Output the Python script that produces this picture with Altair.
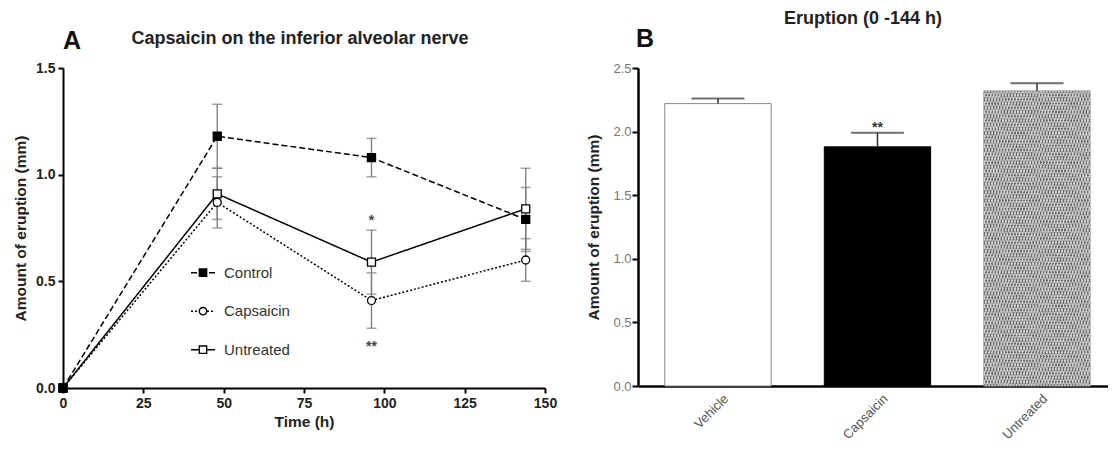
import altair as alt
import pandas as pd

# ---------------- Panel A data ----------------
times = [0, 48, 96, 144]
series_names = ["Control", "Capsaicin", "Untreated"]
control_mean = [0.0, 1.18, 1.08, 0.79]
control_err = [0.0, 0.15, 0.09, 0.15]
capsaicin_mean = [0.0, 0.87, 0.41, 0.60]
capsaicin_err = [0.0, 0.12, 0.13, 0.10]
untreated_mean = [0.0, 0.91, 0.59, 0.84]
untreated_err = [0.0, 0.12, 0.15, 0.19]
x_ticks_a = [0, 25, 50, 75, 100, 125, 150]
y_ticks_a = [0.0, 0.5, 1.0, 1.5]
sig_a_time = [96, 96]
sig_a_value = [0.80, 0.21]
sig_a_text = ["*", "**"]
title_a = ["Capsaicin on  the inferior alveolar nerve"]

# ---------------- Panel B data ----------------
groups = ["Vehicle", "Capsaicin", "Untreated"]
group_mean = [2.22, 1.88, 2.32]
group_err = [0.04, 0.11, 0.06]
sig_b_group = ["Capsaicin"]
sig_b_value = [2.06]
sig_b_text = ["**"]
y_ticks_b = [0.0, 0.5, 1.0, 1.5, 2.0, 2.5]
title_b = ["Eruption (0 -144 h)"]

FONT = "Liberation Sans"
W_A, H_A = 482, 320
W_B, H_B = 470, 318

# ---------- tables ----------
means = {"Control": control_mean, "Capsaicin": capsaicin_mean, "Untreated": untreated_mean}
errs = {"Control": control_err, "Capsaicin": capsaicin_err, "Untreated": untreated_err}
rows = []
for name in ["Untreated", "Capsaicin", "Control"]:
    for t, v, e in zip(times, means[name], errs[name]):
        rows.append({"series": name, "time": t, "value": v, "lo": v - e, "hi": v + e, "err": e})
df_a = pd.DataFrame(rows)
df_sig_a = pd.DataFrame({"time": sig_a_time, "value": sig_a_value, "t": sig_a_text})
df_leg = pd.DataFrame({"series": series_names, "row": list(range(len(series_names)))})

df_b = pd.DataFrame({"group": groups, "mean": group_mean,
                     "top": [m + e for m, e in zip(group_mean, group_err)]})
df_sig_b = pd.DataFrame({"group": sig_b_group, "mean": sig_b_value, "t": sig_b_text})

# ---------- Panel A ----------
axis_common = dict(domainColor="black", domainWidth=2, tickColor="black", tickWidth=2, tickSize=5,
                   labelFont=FONT, labelFontSize=14, labelFontWeight="bold", labelColor="#222",
                   titleFont=FONT, titleFontSize=15.5, titleFontWeight="bold", titleColor="#222",
                   grid=False)
xA = alt.X("time:Q", scale=alt.Scale(domain=[0, 150], nice=False),
           axis=alt.Axis(values=x_ticks_a, title="Time (h)", labelPadding=3, titlePadding=4,
                         labelFlush=False, **axis_common))


def yA(field):
    return alt.Y(field, type="quantitative", scale=alt.Scale(domain=[0, 1.5], nice=False),
                 axis=alt.Axis(values=y_ticks_a, format=".1f", title="Amount of eruption (mm)",
                               labelPadding=3, titlePadding=7, labelFlush=False, **axis_common))


shape_scale = alt.Scale(domain=series_names, range=["square", "circle", "square"])
fill_scale = alt.Scale(domain=series_names, range=["black", "white", "white"])
dash_scale = alt.Scale(domain=series_names, range=[[6, 3], [2, 2], [1, 0]])

base_a = alt.Chart(df_a)
lines = base_a.mark_line(color="black", strokeWidth=1.5).encode(
    x=xA, y=yA("value"),
    strokeDash=alt.StrokeDash("series:N", scale=dash_scale, legend=None))
err_base = base_a.transform_filter("datum.err > 0")
err_rule = err_base.mark_rule(color="#7a7a7a", strokeWidth=1.3).encode(x=xA, y=yA("lo"), y2="hi")
cap_lo = err_base.mark_tick(orient="horizontal", size=10, thickness=1.5, color="#7a7a7a").encode(x=xA, y=yA("lo"))
cap_hi = err_base.mark_tick(orient="horizontal", size=10, thickness=1.5, color="#7a7a7a").encode(x=xA, y=yA("hi"))
points = base_a.mark_point(filled=True, size=64, stroke="black", strokeWidth=1.3, opacity=1).encode(
    x=xA, y=yA("value"),
    shape=alt.Shape("series:N", scale=shape_scale, legend=None),
    fill=alt.Fill("series:N", scale=fill_scale, legend=None))
sig_a = alt.Chart(df_sig_a).mark_text(font=FONT, fontSize=14, fontWeight="bold", color="#444", dy=4).encode(
    x=xA, y=yA("value"), text="t:N")

leg = alt.Chart(df_leg).transform_calculate(
    ly="204.7 + datum.row * 38.5", lx1="128", lx2="152", lm="140", lt="161")
leg_rule = leg.mark_rule(color="black", strokeWidth=1.5).encode(
    x=alt.X("lx1:Q", scale=None), x2="lx2:Q", y=alt.Y("ly:Q", scale=None),
    strokeDash=alt.StrokeDash("series:N", scale=dash_scale, legend=None))
leg_pt = leg.mark_point(filled=True, size=55, stroke="black", strokeWidth=1.3, opacity=1).encode(
    x=alt.X("lm:Q", scale=None), y=alt.Y("ly:Q", scale=None),
    shape=alt.Shape("series:N", scale=shape_scale, legend=None),
    fill=alt.Fill("series:N", scale=fill_scale, legend=None))
leg_txt = leg.mark_text(font=FONT, fontSize=15, color="#333", align="left", baseline="middle").encode(
    x=alt.X("lt:Q", scale=None), y=alt.Y("ly:Q", scale=None), text="series:N")

ttl_a = alt.Chart(pd.DataFrame({"t": title_a})).mark_text(
    font=FONT, fontSize=18, fontWeight="bold", color="#222", align="center", baseline="middle").encode(
    text="t:N", x=alt.value(237), y=alt.value(-29))
lab_a = alt.Chart(pd.DataFrame({"t": ["A"]})).mark_text(
    font=FONT, fontSize=25, fontWeight="bold", color="#111", align="left", baseline="alphabetic").encode(
    text="t:N", x=alt.value(0), y=alt.value(-19))

panel_a = alt.layer(lines, err_rule, cap_lo, cap_hi, points, sig_a, leg_rule, leg_pt, leg_txt,
                    ttl_a, lab_a).properties(width=W_A, height=H_A)

# ---------- Panel B ----------
xB = alt.X("group:N", scale=alt.Scale(domain=groups, paddingInner=1 / 3, paddingOuter=0.14, align=0.6),
           axis=alt.Axis(title=None, labelAngle=-45, labelFont=FONT, labelFontSize=13, labelColor="#555",
                         ticks=False, tickSize=0, labelPadding=6, labelOffset=4,
                         domainColor="black", domainWidth=2.5))


def yB(field):
    return alt.Y(field, type="quantitative", scale=alt.Scale(domain=[0, 2.5], nice=False),
                 axis=alt.Axis(values=y_ticks_b, format=".1f", title="Amount of eruption (mm)",
                               domainColor="black", domainWidth=2.5, tickColor="black", tickWidth=2,
                               tickSize=6, labelPadding=1, labelFont=FONT, labelFontSize=13,
                               labelColor="#777", labelFlush=False,
                               titleFont=FONT, titleFontSize=15.5, titleFontWeight="bold",
                               titleColor="#222", titlePadding=11, grid=False))


def stripes(x1, y1, x2, y2, c1, c2, n=70):
    stops = []
    for k in range(n):
        a, b, c = k / n, (k + 0.5) / n, (k + 1) / n
        stops += [alt.GradientStop(offset=a, color=c1), alt.GradientStop(offset=b, color=c1),
                  alt.GradientStop(offset=b, color=c2), alt.GradientStop(offset=c, color=c2)]
    return alt.LinearGradient(gradient="linear", stops=stops, x1=x1, y1=y1, x2=x2, y2=y2)


base_b = alt.Chart(df_b)
bars_plain = base_b.transform_filter("datum.group != 'Untreated'").mark_bar(strokeWidth=1).encode(
    x=xB, y=yB("mean"),
    fill=alt.Fill("group:N", scale=alt.Scale(domain=["Vehicle", "Capsaicin"], range=["white", "black"]), legend=None),
    stroke=alt.Stroke("group:N", scale=alt.Scale(domain=["Vehicle", "Capsaicin"], range=["#888", "black"]), legend=None))
bars_hatch1 = base_b.transform_filter("datum.group == 'Untreated'").mark_bar(
    fill=stripes(0, 0, 1, 1, "#6a6a6a", "#b4b4b4"), stroke="#999", strokeWidth=1).encode(x=xB, y=yB("mean"))
bars_hatch2 = base_b.transform_filter("datum.group == 'Untreated'").mark_bar(
    fill=stripes(1, 0, 0, 1, "rgba(255,255,255,0.4)", "rgba(255,255,255,0)")).encode(x=xB, y=yB("mean"))
err_b = base_b.mark_rule(color="#333", strokeWidth=1.5).encode(x=xB, y=yB("mean"), y2="top")
cap_b = base_b.mark_tick(orient="horizontal", size=53, thickness=2, color="#333").encode(x=xB, y=yB("top"))
sig_b = alt.Chart(df_sig_b).mark_text(font=FONT, fontSize=14, fontWeight="bold", color="#333", dy=4).encode(
    x=xB, y=yB("mean"), text="t:N")
ttl_b = alt.Chart(pd.DataFrame({"t": title_b})).mark_text(
    font=FONT, fontSize=18, fontWeight="bold", color="#222", align="center", baseline="middle").encode(
    text="t:N", x=alt.value(225), y=alt.value(-48.7))
lab_b = alt.Chart(pd.DataFrame({"t": ["B"]})).mark_text(
    font=FONT, fontSize=25, fontWeight="bold", color="#111", align="left", baseline="alphabetic").encode(
    text="t:N", x=alt.value(-2), y=alt.value(-20.7))

panel_b = alt.layer(bars_plain, bars_hatch1, bars_hatch2, err_b, cap_b, sig_b, ttl_b, lab_b).properties(
    width=W_B, height=H_B)

chart = alt.hconcat(panel_a, panel_b, spacing=93, bounds="flush").resolve_scale(
    fill="independent", stroke="independent", shape="independent", strokeDash="independent"
).properties(
    padding={"left": 5, "top": 2, "right": 0, "bottom": 0}
).configure(font=FONT).configure_view(stroke=None)

chart.save("out.html", embed_options={"renderer": "svg", "actions": False})
